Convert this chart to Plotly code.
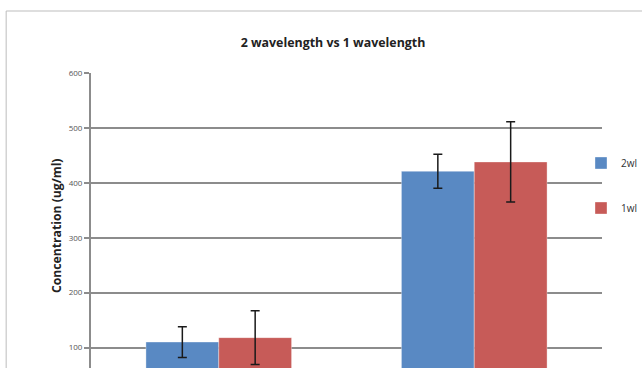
import plotly.graph_objects as go

categories = ["Sample A", "Sample B"]
series_names = ["2wl", "1wl"]
values_2wl = [110, 421]
errors_2wl = [28, 31]
values_1wl = [118, 438]
errors_1wl = [49, 73]
colors = ["#5989C3", "#C75B58"]

W, H = 642, 368
L, R, T, B = 91, 39, 73, 0
pw, ph = W - L - R, H - T - B

def px_x(x):
    return (x - L) / pw

def px_y(y):
    return (H - B - y) / ph

fig = go.Figure()
for name, vals, errs, col, lg in [
    (series_names[0], values_2wl, errors_2wl, colors[0], "legend"),
    (series_names[1], values_1wl, errors_1wl, colors[1], "legend2"),
]:
    fig.add_trace(go.Bar(
        x=categories, y=vals, name=name, legend=lg,
        marker=dict(color=col, line=dict(color="rgba(255,255,255,0.35)", width=1)),
        error_y=dict(type="data", array=errs, visible=True, color="#1a1a1a",
                     thickness=1.5, width=4.5),
    ))

fig.update_layout(
    width=W, height=H,
    margin=dict(l=L, r=R, t=T, b=B, pad=0),
    paper_bgcolor="white", plot_bgcolor="white",
    barmode="group", bargap=0.43, bargroupgap=0,
    font=dict(family="Open Sans, Liberation Sans, sans-serif", color="#222"),
    title=dict(text="<b>2 wavelength vs 1 wavelength</b>", x=333 / W, xref="container",
               xanchor="center", y=1 - 43 / H, yref="container", yanchor="middle",
               font=dict(size=12.4, color="#222")),
    showlegend=True,
    legend=dict(x=px_x(582), y=px_y(163), xanchor="left", yanchor="middle",
                itemwidth=30, font=dict(size=10, color="#333"),
                bgcolor="rgba(0,0,0,0)"),
    legend2=dict(x=px_x(582), y=px_y(208), xanchor="left", yanchor="middle",
                 itemwidth=30, font=dict(size=10, color="#333"),
                 bgcolor="rgba(0,0,0,0)"),
    xaxis=dict(showticklabels=False, showgrid=False, showline=False, ticks="",
               automargin=False, fixedrange=True),
    yaxis=dict(range=[100 - (368 - 347.5) / 0.55, 600], dtick=100, tick0=0,
               showgrid=True, gridcolor="#8c8c8c", gridwidth=1.5,
               showline=True, linecolor="#8c8c8c", linewidth=2,
               ticks="outside", ticklen=5, tickcolor="#8c8c8c", tickwidth=1.5,
               tickfont=dict(size=8, color="#555"), zeroline=False,
               automargin=False, fixedrange=True),
    annotations=[dict(text="<b>Concentration (ug/ml)</b>", textangle=-90,
                      x=px_x(45.5), y=px_y(226), xref="paper", yref="paper",
                      showarrow=False, font=dict(size=12.2, color="#222"))],
    shapes=[
        dict(type="line", xref="paper", yref="paper", x0=px_x(6), x1=px_x(660),
             y0=px_y(11), y1=px_y(11), line=dict(color="#bdbdbd", width=1)),
        dict(type="line", xref="paper", yref="paper", x0=px_x(6), x1=px_x(6),
             y0=px_y(11), y1=px_y(400), line=dict(color="#bdbdbd", width=1)),
    ],
)

fig.write_html("out.html", config={"displayModeBar": False},
               post_script="document.body.style.margin='0';document.body.style.overflow='hidden';")
